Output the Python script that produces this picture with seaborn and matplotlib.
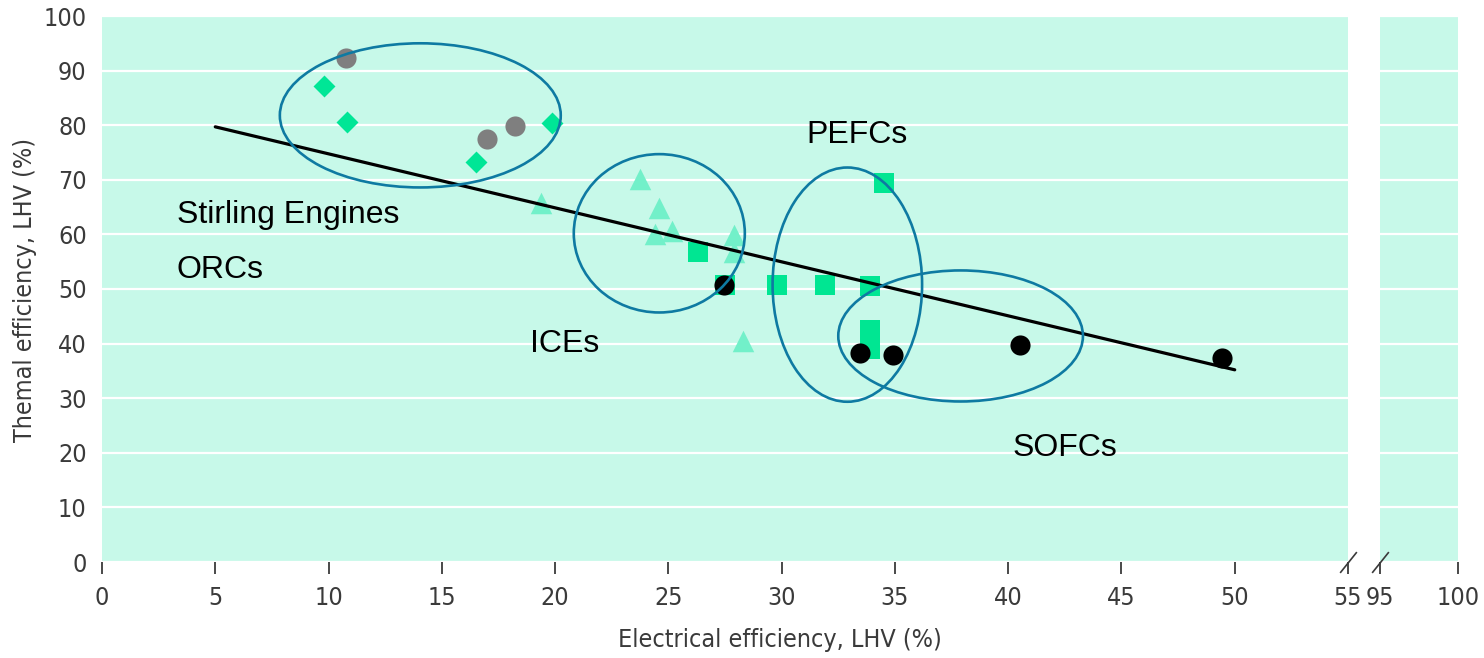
import matplotlib.pyplot as plt
import seaborn as sns
from matplotlib import font_manager
from matplotlib.patches import Ellipse

# Stirling engines (grey circles)
stirling_x = [10.75, 17.0, 18.25]
stirling_y = [92.3, 77.4, 79.9]
# ORCs (diamonds)
orc_x = [9.8, 10.8, 16.5, 19.85]
orc_y = [87.1, 80.6, 73.3, 80.4]
# ICEs (triangles)
ice_x = [19.4, 23.75, 24.6, 24.4, 25.15, 27.9, 27.9, 28.3]
ice_y = [65.7, 70.1, 64.9, 60.0, 60.6, 59.8, 56.7, 40.4]
# PEFCs (squares)
pefc_x = [26.3, 27.5, 29.8, 31.9, 34.5, 33.9, 33.9, 33.9]
pefc_y = [56.7, 50.8, 50.7, 50.7, 69.5, 50.5, 42.5, 39.0]
# SOFCs (black circles)
sofc_x = [27.45, 33.45, 34.9, 40.5, 49.45]
sofc_y = [50.8, 38.3, 38.0, 39.8, 37.4]

# Trend line end points
trend_x = [5, 50]
trend_y = [79.7, 35.2]

# Group ellipses: centre, width, height (data units)
ell_cx = [14.05, 24.6, 32.9, 37.9]
ell_cy = [81.8, 60.2, 50.8, 41.4]
ell_w = [12.4, 7.55, 6.6, 10.8]
ell_h = [26.4, 29.0, 42.9, 24.0]

# Group labels
labels = ["Stirling Engines", "ORCs", "ICEs", "PEFCs", "SOFCs"]
label_x = [3.3, 3.3, 18.9, 31.1, 40.2]
label_y = [63.5, 53.4, 40.0, 78.2, 20.9]

left_ticks = list(range(0, 56, 5))
right_ticks = [95, 100]
y_ticks = list(range(0, 101, 10))

sns.set_theme(style="white")
names = {f.name for f in font_manager.fontManager.ttflist}
narrow = "Liberation Sans Narrow" if "Liberation Sans Narrow" in names else "DejaVu Sans"
plt.rcParams["font.family"] = [narrow, "DejaVu Sans"]
plt.rcParams["font.stretch"] = "condensed"

bg = "#c7f9e9"
tick_col = "#3a3a3a"

fig = plt.figure(figsize=(14.84, 6.58), dpi=100)
ax1 = fig.add_axes([102 / 1484, 96 / 658, 1246 / 1484, 546 / 658])
ax2 = fig.add_axes([1380 / 1484, 96 / 658, 78 / 1484, 546 / 658])

for ax in (ax1, ax2):
    ax.set_facecolor(bg)
    for s in ax.spines.values():
        s.set_visible(False)
    ax.set_ylim(0, 100)
    ax.set_yticks(y_ticks)
    ax.grid(axis="y", color="white", lw=1.6)
    ax.grid(axis="x", visible=False)
    ax.set_axisbelow(True)
    ax.tick_params(axis="x", direction="out", length=8.5, width=1.3,
                   color=tick_col, pad=9, labelsize=18, labelcolor=tick_col,
                   bottom=True)
    ax.tick_params(axis="y", length=0, pad=11, labelsize=18,
                   labelcolor=tick_col)

ax1.set_xlim(0, 55)
ax1.set_xticks(left_ticks)
ax2.set_xlim(95, 100)
ax2.set_xticks(right_ticks)
ax2.set_yticklabels([])

# Scatter series
sns.scatterplot(x=ice_x, y=ice_y, ax=ax1, color="#72f0c9", marker="^",
                s=240, linewidth=0, zorder=3)
sns.scatterplot(x=orc_x, y=orc_y, ax=ax1, color="#00e696", marker="D",
                s=125, linewidth=0, zorder=3)
sns.scatterplot(x=stirling_x, y=stirling_y, ax=ax1, color="#7f7f7f",
                marker="o", s=210, linewidth=0, zorder=3)
sns.scatterplot(x=pefc_x, y=pefc_y, ax=ax1, color="#00e692", marker="s",
                s=215, linewidth=0, zorder=3)
sns.scatterplot(x=sofc_x, y=sofc_y, ax=ax1, color="black", marker="o",
                s=210, linewidth=0, zorder=3)

sns.lineplot(x=trend_x, y=trend_y, ax=ax1, color="black", lw=2.3, zorder=4)

for cx, cy, w, h in zip(ell_cx, ell_cy, ell_w, ell_h):
    ax1.add_patch(Ellipse((cx, cy), w, h, fill=False, ec="#0e7aa2",
                          lw=1.9, zorder=5))

for t, x, y in zip(labels, label_x, label_y):
    ax1.text(x, y, t, ha="left", va="center", fontsize=23, color="black",
             family=["Liberation Sans", "DejaVu Sans"])

# Axis break marks
slash = [(-0.8, -1.0), (0.8, 1.0)]
ax1.plot([55], [0], marker=slash, markersize=15, mec=tick_col, mew=1.2,
         clip_on=False, zorder=6)
ax2.plot([95], [0], marker=slash, markersize=15, mec=tick_col, mew=1.2,
         clip_on=False, zorder=6)

fig.text(780 / 1484, 18 / 658, "Electrical efficiency, LHV (%)", ha="center",
         va="center", fontsize=18, color=tick_col)
fig.text(25 / 1484, 368 / 658, "Themal efficiency, LHV (%)", ha="center",
         va="center", rotation=90, fontsize=18, color=tick_col)

fig.savefig("out.png", dpi=100)
